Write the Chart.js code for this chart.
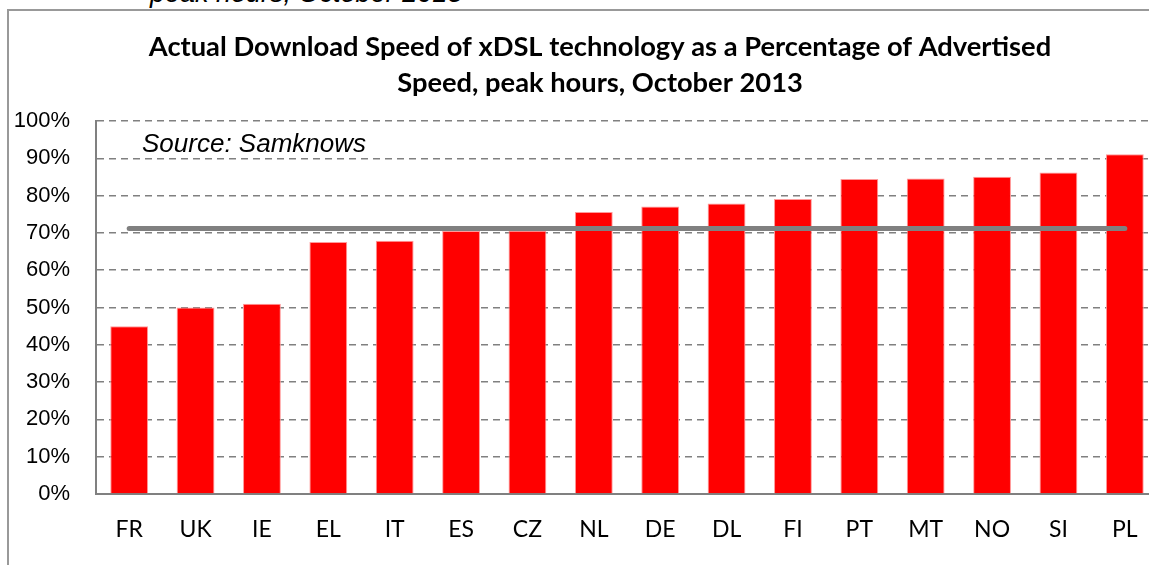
<!DOCTYPE html>
<html>
<head>
<meta charset="utf-8">
<script src="https://cdn.jsdelivr.net/npm/chart.js@4.4.1/dist/chart.umd.min.js"></script>
<style>
  html, body { margin: 0; padding: 0; background: #fff; overflow: hidden; width: 1149px; height: 565px; }
  #wrap { position: relative; width: 1149px; height: 565px; overflow: hidden; }
  #frame { position: absolute; left: 7px; top: 9px; width: 1300px; height: 700px; border: 2px solid #999; box-sizing: border-box; }
  #cut { position: absolute; left: 150px; top: -20px; font: italic 27px/27px "Liberation Sans", Arial, sans-serif; color: #000; white-space: nowrap; }
  canvas { position: absolute; left: 0; top: 0; }
</style>
</head>
<body>
<div id="wrap">
  <div id="cut">peak hours, October 2013</div>
  <div id="frame"></div>
  <canvas id="c" width="1200" height="565"></canvas>
</div>
<script>
// categories and values
const countries = ['FR', 'UK', 'IE', 'EL', 'IT', 'ES', 'CZ', 'NL', 'DE', 'DL', 'FI', 'PT', 'MT', 'NO', 'SI', 'PL'];
const actualPct = [45, 50, 51, 67.6, 67.9, 70.5, 70.6, 75.6, 77.1, 77.9, 79.1, 84.5, 84.6, 85.1, 86.2, 91.1];
const averagePct = countries.map(() => 71.2);
const yTicks = [0, 10, 20, 30, 40, 50, 60, 70, 80, 90, 100];

const titleLines = ['Actual Download Speed of xDSL technology as a Percentage of Advertised', 'Speed, peak hours, October 2013'];
const sourceNote = 'Source: Samknows';

const GRID = '#808080';

// the "Source" note sits inside the plot, top-left
const sourcePlugin = {
  id: 'sourceNote',
  afterDraw(chart) {
    const ctx = chart.ctx;
    ctx.save();
    ctx.font = 'italic 26px "Liberation Sans", Arial, sans-serif';
    ctx.fillStyle = '#000';
    ctx.textBaseline = 'alphabetic';
    ctx.fillText(sourceNote, 142, 152);
    ctx.restore();
  }
};

new Chart(document.getElementById('c').getContext('2d'), {
  data: {
    labels: countries,
    datasets: [
      { type: 'line', data: averagePct, borderColor: '#808080', borderWidth: 5, borderCapStyle: 'round',
        pointRadius: 0, fill: false, order: 0 },
      { type: 'bar', data: actualPct, backgroundColor: '#ff0000', borderColor: '#ff9a9a', borderWidth: 1,
        categoryPercentage: 1, barPercentage: 0.57, order: 1 },
    ],
  },
  options: {
    responsive: false, animation: false,
    layout: { padding: 0 },
    plugins: {
      legend: { display: false },
      tooltip: { enabled: false },
      title: {
        display: true, text: titleLines, color: '#000',
        font: { family: 'Lato, "Open Sans", sans-serif', size: 27.3, weight: 'bold', lineHeight: 1.32 },
        padding: { top: 29, bottom: 20 },
      },
    },
    scales: {
      x: {
        grid: { display: false, drawTicks: false },
        border: { display: true, color: GRID, width: 2 },
        ticks: { color: '#000', font: { family: 'Lato, "Open Sans", sans-serif', size: 23 }, padding: 22 },
        afterFit: (s) => { s.height = 71; },
      },
      y: {
        min: 0, max: 100,
        afterBuildTicks: (s) => { s.ticks = yTicks.map((v) => ({ value: v })); },
        grid: { color: (c) => (c.tick.value === 0 ? 'rgba(0,0,0,0)' : GRID), lineWidth: 1.5, drawTicks: false },
        border: { display: true, color: GRID, width: 2, dash: [7, 5] },
        ticks: { color: '#000', font: { family: '"Liberation Sans", Arial, sans-serif', size: 22 }, padding: 26,
          callback: (v) => v + '%' },
        afterFit: (s) => { s.width = 96; },
      },
      // empty spacer on the right so the plot runs past the cropped edge while the title stays centred
      spacer: {
        position: 'right', display: true,
        grid: { display: false, drawTicks: false }, border: { display: false }, ticks: { display: false },
        afterFit: (s) => { s.width = 42; },
      },
    },
  },
  plugins: [sourcePlugin],
});
</script>
</body>
</html>
